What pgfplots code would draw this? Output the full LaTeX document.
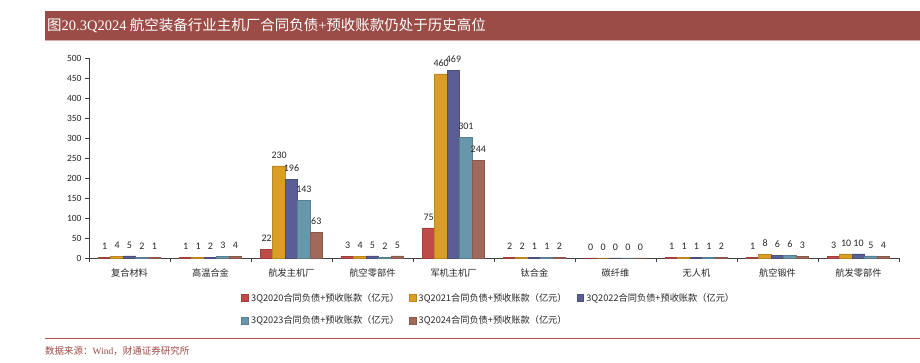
\documentclass[border=0pt]{standalone}
\usepackage{fontspec}
\usepackage{pgfplots}
\pgfplotsset{compat=1.18}
\setmainfont{Carlito}
\newfontfamily\cjk{Noto Sans CJK SC}
\newfontfamily\serif{Liberation Serif}
\definecolor{titlebg}{HTML}{9C4C47}
\definecolor{srcline}{HTML}{C0504D}
\definecolor{srctext}{HTML}{9E4A46}
\definecolor{cA}{HTML}{BE4B48}
\definecolor{cB}{HTML}{DB9E25}
\definecolor{cC}{HTML}{5A5E94}
\definecolor{cD}{HTML}{6896AB}
\definecolor{cE}{HTML}{A0695A}
\begin{document}
\begin{tikzpicture}[x=1pt,y=1pt]
\path[use as bounding box] (0,0) rectangle (920,363);
\fill[titlebg] (45,323) rectangle (920,352);
\draw[titlebg!45!white,line width=0.8pt] (45,322.4) -- (920,322.4);
\node[anchor=west,text=white,font=\fontsize{14.5}{16}\selectfont,inner sep=0pt] at (47,337.5) {\cjk 图{\serif 20.3Q2024} 航空装备行业主机厂合同负债{\serif +}预收账款仍处于历史高位};
\draw[srcline,line width=0.8pt] (45,25) -- (920,25);
\node[anchor=west,text=srctext,font=\fontsize{9.5}{11}\selectfont,inner sep=0pt] at (45,12) {\cjk 数据来源：{\serif Wind}，财通证券研究所};
\begin{axis}[
  at={(89pt,105pt)}, anchor=south west,
  scale only axis, width=810pt, height=200pt,
  xmin=-0.5, xmax=9.5, ymin=0, ymax=500,
  ytick={0,50,...,500},
  xtick={0,...,9},
  xticklabels={复合材料,高温合金,航发主机厂,航空零部件,军机主机厂,钛合金,碳纤维,无人机,航空锻件,航发零部件},
  minor xtick={-0.5,0.5,...,9.5},
  major x tick style={draw=none},
  minor tick length=4pt, major tick length=4pt,
  tick align=outside,
  axis x line*=bottom, axis y line*=left,
  axis line style={black!75,line width=0.7pt},
  every tick/.style={black!75,line width=0.7pt},
  x tick label style={font=\cjk\fontsize{9.2}{10}\selectfont, yshift=-3pt, text=black!85},
  y tick label style={font=\fontsize{9.5}{10}\selectfont, text=black!85},
  /pgf/number format/assume math mode=true,
  ybar=0pt, bar width=12.4pt,
  nodes near coords,
  every node near coord/.append style={font=\fontsize{10}{10}\selectfont, text=black!85, yshift=4pt},
  legend columns=3,
  legend cell align=left,
  legend style={at={(axis description cs:0.188,-0.165)}, anchor=north west, draw=none, fill=none,
    font=\cjk\fontsize{9.2}{10}\selectfont, text=black!85,
    /tikz/every even column/.append style={column sep=8pt},
    row sep=9.5pt, inner sep=0pt},
  legend image code/.code={\fill[#1] (0pt,-3.4pt) rectangle (6.8pt,3.4pt);},
  clip=false,
]
\addplot[fill=cA, draw=cA!85!black, line width=0.9pt] coordinates {(0,1) (1,1) (2,22) (3,3) (4,75) (5,2) (6,0) (7,1) (8,1) (9,3)};
\addlegendentry{3Q2020合同负债+预收账款（亿元）}
\addplot[fill=cB, draw=cB!85!black, line width=0.9pt] coordinates {(0,4) (1,1) (2,230) (3,4) (4,460) (5,2) (6,0) (7,1) (8,8) (9,10)};
\addlegendentry{3Q2021合同负债+预收账款（亿元）}
\addplot[fill=cC, draw=cC!85!black, line width=0.9pt] coordinates {(0,5) (1,2) (2,196) (3,5) (4,469) (5,1) (6,0) (7,1) (8,6) (9,10)};
\addlegendentry{3Q2022合同负债+预收账款（亿元）}
\addplot[fill=cD, draw=cD!85!black, line width=0.9pt] coordinates {(0,2) (1,3) (2,143) (3,2) (4,301) (5,1) (6,0) (7,1) (8,6) (9,5)};
\addlegendentry{3Q2023合同负债+预收账款（亿元）}
\addplot[fill=cE, draw=cE!85!black, line width=0.9pt] coordinates {(0,1) (1,4) (2,63) (3,5) (4,244) (5,2) (6,0) (7,2) (8,3) (9,4)};
\addlegendentry{3Q2024合同负债+预收账款（亿元）}
\end{axis}
\end{tikzpicture}
\end{document}
